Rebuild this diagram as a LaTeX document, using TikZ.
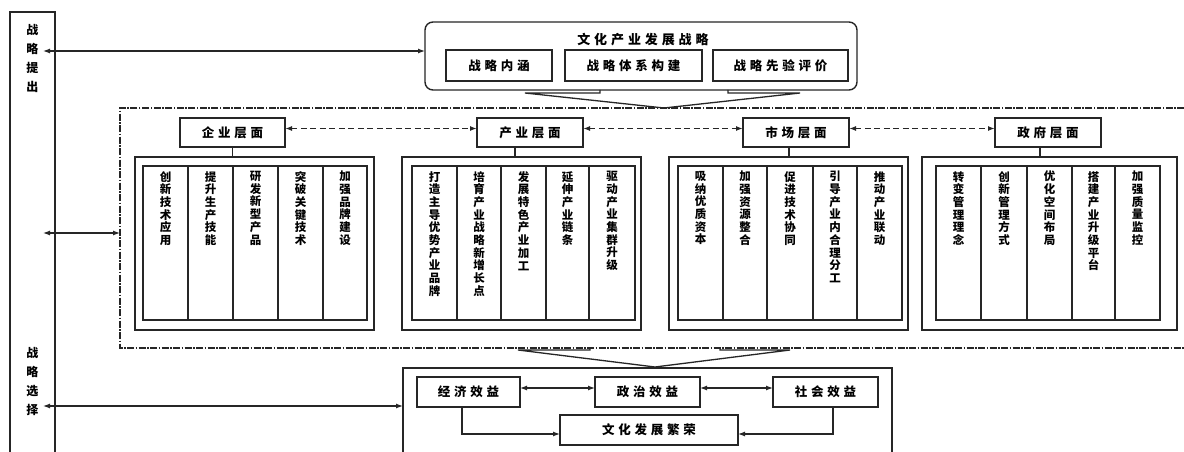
\documentclass[tikz,border=0pt]{standalone}
\usepackage{fontspec}
\setmainfont{Noto Sans CJK SC}
\usetikzlibrary{arrows.meta}
\makeatletter
\def\vt#1{\vt@a#1\relax}
\def\vt@a#1#2\relax{#1\ifx\relax#2\relax\expandafter\@gobble\else\expandafter\@firstofone\fi{\\\vt@a#2\relax}}
\makeatother
\newcommand\lblfont{\fontsize{12.5}{14}\selectfont\bfseries\addfontfeature{LetterSpace=30}}
\newcommand\ttlfont{\fontsize{13}{15}\selectfont\bfseries\addfontfeature{LetterSpace=30}}
\newcommand\colfont{\fontsize{11.5}{12.7}\selectfont\bfseries}
\newcommand\sidefont{\fontsize{12}{19}\selectfont\bfseries}
\tikzset{
  frame/.style={draw=black!85, line width=1.4pt},
  box/.style={draw=black!85, line width=1.4pt, inner sep=0pt, outer sep=0pt, font=\lblfont},
  colbox/.style={draw=black!85, line width=1.3pt, inner sep=0pt, outer sep=0pt, minimum height=154},
  grpbox/.style={draw=black!85, line width=1.4pt, inner sep=0pt, outer sep=0pt, minimum height=173},
  vtxt/.style={inner sep=0pt, align=center, font=\colfont},
  sidetxt/.style={inner sep=0pt, align=center, font=\sidefont},
  tip/.tip={Latex[length=7pt,width=5pt]},
  arr/.style={draw=black!85, line width=1.2pt, {tip}-{tip}},
  arr1/.style={draw=black!85, line width=1.2pt, -{tip}},
  darr/.style={draw=black!85, line width=1.4pt, dash pattern=on 6pt off 3.5pt, {tip}-{tip}},
  dashdotline/.style={draw=black!85, line width=1.4pt, dash pattern=on 7pt off 1.5pt on 1.5pt off 1.5pt},
  funnel/.style={draw=black!85, line width=1.3pt},
}
\newcommand\mycol[4]{%
  \node[colbox, minimum width=#3-#2] (#1) at ({(#2+#3)/2},243) {};
  \node[vtxt, anchor=north] (#1t) at ({(#2+#3)/2},171) {\vt{#4}};}
\begin{document}
\begin{tikzpicture}[x=1pt,y=-1pt]
\useasboundingbox (0,0) rectangle (1184,452);
\fill[white] (0,0) rectangle (1184,452);

% left frame
\draw[frame] (10,452) -- (10,12) -- (55,12) -- (55,452);
\node[sidetxt] (lt1) at (32.5,58) {\vt{战略提出}};
\node[sidetxt] (lt2) at (32.5,382) {\vt{战略选择}};
\coordinate (L1) at (43,51);
\coordinate (L2) at (43,233);
\coordinate (L3) at (43,406);

% top box
\node[box, rounded corners=8pt, minimum width=432, minimum height=68] (top) at (641,56) {};
\node[inner sep=0pt, font=\ttlfont] (title) at (643,40) {文化产业发展战略};
\node[box, minimum width=106, minimum height=31] (s1) at (499,65.5) {战略内涵};
\node[box, minimum width=137, minimum height=31] (s2) at (633.5,65.5) {战略体系构建};
\node[box, minimum width=135, minimum height=31] (s3) at (780.5,65.5) {战略先验评价};
\draw[arr] (L1) -- (L1 -| top.west);

% funnel top
\draw[funnel] (600,90) -- (600,93) -- (525,93) -- (664,108) -- (800,93) -- (728,93) -- (728,90);

% dash-dot region
\draw[dashdotline] (1184,108) -- (120,108) -- (120,348) -- (1184,348);
\coordinate (D) at (120,233);
\draw[arr] (L2) -- (D);

% level boxes
\node[box, minimum width=105, minimum height=29] (ent) at (232.5,132.5) {企业层面};
\node[box, minimum width=106, minimum height=29] (ind) at (530,132.5) {产业层面};
\node[box, minimum width=106, minimum height=29] (mkt) at (796,132.5) {市场层面};
\node[box, minimum width=106, minimum height=29] (gov) at (1048,132.5) {政府层面};
\draw[darr] ([yshift=4pt]ent.east) -- ([yshift=4pt]ind.west);
\draw[darr] ([yshift=4pt]ind.east) -- ([yshift=4pt]mkt.west);
\draw[darr] ([yshift=4pt]mkt.east) -- ([yshift=4pt]gov.west);

% group boxes
\node[grpbox, minimum width=239] (g1) at (254.5,243.5) {};
\node[grpbox, minimum width=239] (g2) at (521.5,243.5) {};
\node[grpbox, minimum width=239] (g3) at (788.5,243.5) {};
\node[grpbox, minimum width=255] (g4) at (1049.5,243.5) {};
\draw[frame] (ent.south) -- (ent.south |- g1.north);
\draw[frame] ([xshift=-15pt]ind.south) -- ([xshift=-15pt]ind.south |- g2.north);
\draw[frame] ([xshift=-7pt]mkt.south) -- ([xshift=-7pt]mkt.south |- g3.north);
\draw[frame] ([xshift=-8pt]gov.south) -- ([xshift=-8pt]gov.south |- g4.north);

% columns
\mycol{a1}{143}{188}{创新技术应用}
\mycol{a2}{188}{233}{提升生产技能}
\mycol{a3}{233}{278}{研发新型产品}
\mycol{a4}{278}{323}{突破关键技术}
\mycol{a5}{323}{367}{加强品牌建设}

\mycol{b1}{412}{457}{打造主导优势产业品牌}
\mycol{b2}{457}{501}{培育产业战略新增长点}
\mycol{b3}{501}{546}{发展特色产业加工}
\mycol{b4}{546}{589}{延伸产业链条}
\mycol{b5}{589}{635}{驱动产业集群升级}

\mycol{c1}{678}{723}{吸纳优质资本}
\mycol{c2}{723}{767}{加强资源整合}
\mycol{c3}{767}{813}{促进技术协同}
\mycol{c4}{813}{857}{引导产业内合理分工}
\mycol{c5}{857}{902}{推动产业联动}

\mycol{d1}{936}{981}{转变管理理念}
\mycol{d2}{981}{1027}{创新管理方式}
\mycol{d3}{1027}{1072}{优化空间布局}
\mycol{d4}{1072}{1115}{搭建产业升级平台}
\mycol{d5}{1115}{1160}{加强质量监控}

% funnel bottom
\draw[funnel] (590,348) -- (590,350) -- (518,350) -- (655,367) -- (790,350) -- (720,350) -- (720,348);

% bottom box
\draw[frame] (403,452) -- (403,368) -- (892,368) -- (892,452);
\coordinate (B) at (403,406);
\draw[arr] (L3) -- (B);
\node[box, minimum width=103, minimum height=30] (jj) at (468.5,392) {经济效益};
\node[box, minimum width=105, minimum height=30] (zz) at (647.5,392) {政治效益};
\node[box, minimum width=105, minimum height=30] (sh) at (825.5,392) {社会效益};
\node[box, minimum width=178, minimum height=30] (wh) at (649,430) {文化发展繁荣};
\draw[arr] ([yshift=4pt]jj.east) -- ([yshift=4pt]zz.west);
\draw[arr] ([yshift=4pt]zz.east) -- ([yshift=4pt]sh.west);
\draw[arr1] ([xshift=-6.5pt]jj.south) |- ([yshift=-4pt]wh.west);
\draw[arr1] ([xshift=7.5pt]sh.south) |- ([yshift=-4pt]wh.east);
\end{tikzpicture}
\end{document}
